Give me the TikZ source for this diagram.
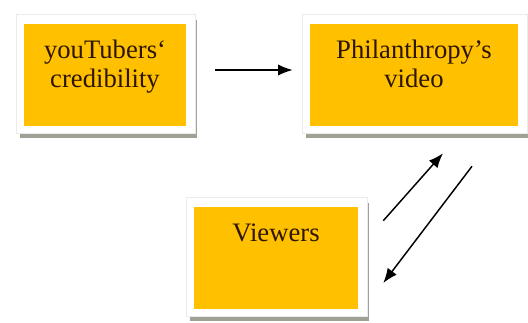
\documentclass[tikz,border=0pt]{standalone}
\usepackage{fontspec}
\setmainfont{Liberation Serif}
\usetikzlibrary{calc,backgrounds,arrows.meta}
\definecolor{gold}{RGB}{255,192,0}
\definecolor{ink}{RGB}{45,22,0}
\definecolor{shadowgray}{RGB}{160,160,148}
\def\lift{3.75pt}
\tikzset{box/.style={fill=gold, text=ink, inner sep=0pt, align=center, font=\fontsize{20pt}{21.75pt}\selectfont, text height=25.5pt, text depth=51pt}}
\tikzset{tallbox/.style={box, text height=47.25pt, text depth=29.25pt}}
\tikzset{frame/.style={fill=white, draw=black!8}}
\tikzset{arrow/.style={line width=1.1pt, black, -{Latex[length=11pt,width=8.5pt]}}}

\begin{document}
\begin{tikzpicture}[x=0.75pt,y=-0.75pt]
\useasboundingbox (0,0) rectangle (528,322);
\node[tallbox, minimum width=121.5pt] (cred) at (105,75) {youTubers‘\\credibility};
\node[tallbox, minimum width=156pt] (video) at (414,75) {Philanthropy’s\\video};
\node[box, minimum width=123pt] (views) at (276,258) {Viewers};
\begin{scope}[on background layer]
\foreach \n in {cred,video,views} {
  \fill[shadowgray] ([shift={(-4,-4)}]\n.north west) rectangle ([shift={(11,12)}]\n.south east);
  \filldraw[frame] ([shift={(-7,-9)}]\n.north west) rectangle ([shift={(9,7)}]\n.south east);
}
\end{scope}
\draw[arrow, shorten <=21.75pt, shorten >=12.75pt] ([yshift=\lift]cred.east) -- ([yshift=\lift]video.west);
\draw[arrow] ($(views.north east)+(25,14)$) -- ($(video.south)+(29,27)$);
\draw[arrow] ($(video.south)+(58,40)$) -- ($(views.east)+(25,25)$);
\end{tikzpicture}
\end{document}
